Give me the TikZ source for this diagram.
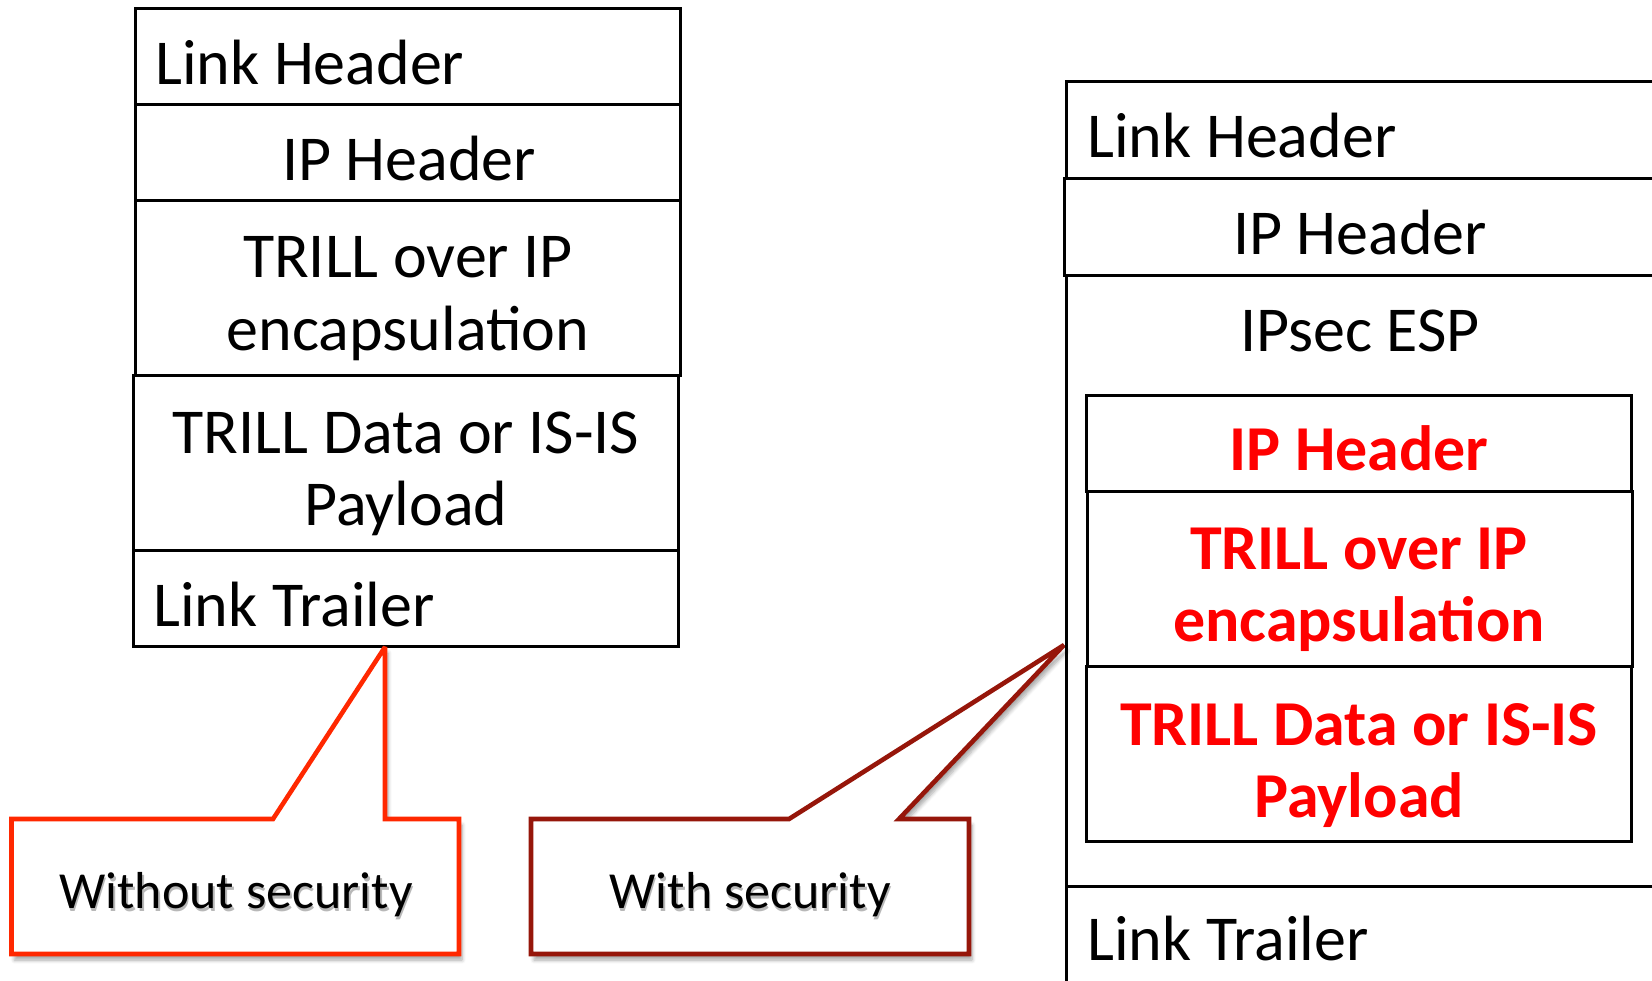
\documentclass[tikz,border=0pt]{standalone}
\usepackage{fontspec}
\setmainfont{Carlito}
\usetikzlibrary{shadows.blur}
\definecolor{calloutA}{RGB}{255,40,0}
\definecolor{calloutB}{RGB}{150,22,10}
\definecolor{redtxt}{RGB}{255,0,0}
\newcommand{\shadowtext}[1]{\rlap{\raisebox{-1.6pt}{\hspace{0.8pt}\textcolor{black!28}{#1}}}#1}
\begin{document}
\begin{tikzpicture}[x=0.5pt,y=-0.5pt,
  layer/.style={draw=black, line width=1.5pt},
  lbl/.style={anchor=base, inner sep=0pt, font=\fontsize{32}{36}\selectfont},
  lbll/.style={lbl, anchor=base west},
  redlbl/.style={lbl, text=redtxt, font=\fontsize{32}{36}\selectfont\bfseries},
  calloutline/.style={line width=2.3pt, line join=miter, miter limit=3, fill=white,
     blur shadow={shadow xshift=1.5pt, shadow yshift=-3pt, shadow blur steps=6, shadow opacity=35}},
  calltext/.style={anchor=base, inner sep=0pt, font=\fontsize{26}{30}\selectfont}
]
\useasboundingbox (0,0) rectangle (1652,980);
\clip (0,0) rectangle (1652,980);

% ---------- left stack ----------
\draw[layer] (135,8.5) rectangle (680,104);
\draw[layer] (135,104) rectangle (680,200);
\draw[layer] (135,200) rectangle (680,375);
\draw[layer] (133,375) rectangle (678,550);
\draw[layer] (133,550) rectangle (678,646);
\coordinate (tipA) at (385,647);

\node[lbll] (lLink) at (155,84) {Link Header};
\node[lbl] (lIP) at (409,180) {IP Header};
\node[lbl] (lTrill1) at (408,277) {TRILL over IP};
\node[lbl] (lTrill2) at (408,350) {encapsulation};
\node[lbl] (lData1) at (406,453) {TRILL Data or IS-IS};
\node[lbl] (lData2) at (406,525) {Payload};
\node[lbll] (lTrail) at (153,626) {Link Trailer};

% ---------- callouts ----------
\draw[calloutline, draw=calloutA] (11.5,819) -- (273,819) -- (tipA) -- (385,819) -- (459,819) -- (459,954) -- (11.5,954) -- cycle;
\coordinate (tipB) at (1064,645);
\draw[calloutline, draw=calloutB] (531,819) -- (789,819) -- (tipB) -- (899,819) -- (969,819) -- (969,954) -- (531,954) -- cycle;

\node[calltext] (cA) at (236,908) {\shadowtext{Without security}};
\node[calltext] (cB) at (750,908) {\shadowtext{With security}};

% ---------- right stack ----------
\draw[layer] (1066,81) rectangle (1700,178);
\draw[layer] (1064,178) rectangle (1700,275);
\draw[layer] (1066,275) rectangle (1700,886);
\draw[layer] (1066,886) rectangle (1700,1100);
\draw[layer] (1086,395) rectangle (1631,491);
\draw[layer] (1087,491) rectangle (1632,666);
\draw[layer] (1086,666) rectangle (1631,841);

\node[lbll] (rLink) at (1087,157) {Link Header};
\node[lbl] (rIP) at (1360,254) {IP Header};
\node[lbl] (rESP) at (1360,351) {IPsec ESP};
\node[redlbl] (rIP2) at (1359,470) {IP Header};
\node[redlbl] (rTrill1) at (1359,569) {TRILL over IP};
\node[redlbl] (rTrill2) at (1359,641) {encapsulation};
\node[redlbl] (rData1) at (1359,745) {TRILL Data or IS-IS};
\node[redlbl] (rData2) at (1359,817) {Payload};
\node[lbll] (rTrail) at (1087,960) {Link Trailer};
\end{tikzpicture}
\end{document}
